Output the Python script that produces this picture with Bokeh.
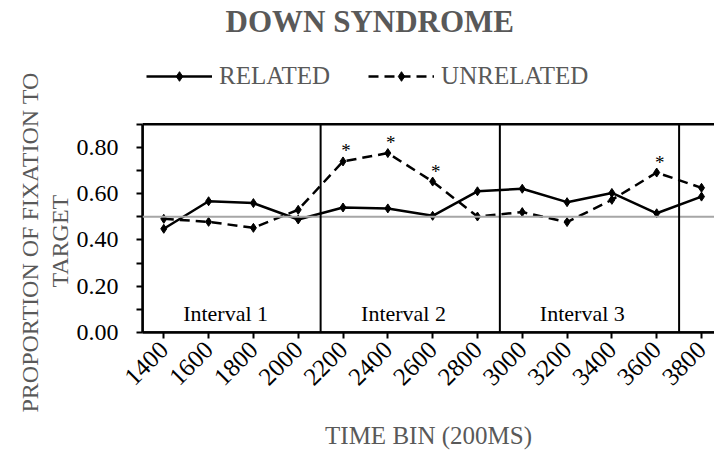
import math
from bokeh.plotting import figure
from bokeh.models import (Span, Legend, LegendItem, FixedTicker, Range1d, Title,
                          NumeralTickFormatter, BoxAnnotation)
from bokeh.core.properties import value
from bokeh.embed import file_html
from bokeh.resources import INLINE

# ---- data ----
categories = ["1400", "1600", "1800", "2000", "2200", "2400", "2600",
              "2800", "3000", "3200", "3400", "3600", "3800"]
related = [0.448, 0.567, 0.559, 0.488, 0.540, 0.536, 0.504,
           0.610, 0.621, 0.563, 0.603, 0.515, 0.587]
unrelated = [0.491, 0.478, 0.452, 0.530, 0.739, 0.775, 0.652,
             0.501, 0.520, 0.477, 0.573, 0.691, 0.625]
significant = ["2200", "2400", "2600", "3600"]
interval_labels = ["Interval 1", "Interval 2", "Interval 3"]
y_ticks = [0.0, 0.2, 0.4, 0.6, 0.8]
y_max = 0.9
chance_level = 0.5

FONT = "Liberation Serif"
GRAY = "#595959"

x = list(range(len(categories)))
x_start, x_end = -0.475, 12.29

# the frame reaches above the plot box so that the legend can sit inside it
p = figure(width=714, height=451,
           x_range=Range1d(x_start, x_end), y_range=Range1d(0, 1.27),
           output_backend="svg", toolbar_location=None,
           min_border_left=142, min_border_top=38, min_border_bottom=119,
           min_border_right=0)
p.outline_line_color = None
p.grid.visible = False
p.background_fill_color = "white"
p.border_fill_color = "white"

# title
p.title.text = "DOWN SYNDROME"
p.title.align = "left"
p.title.offset = 83
p.title.standoff = 0
p.title.text_font = FONT
p.title.text_font_size = "31px"
p.title.text_font_style = "bold"
p.title.text_color = GRAY

# x axis
xa = p.xaxis[0]
xa.ticker = FixedTicker(ticks=x)
xa.major_label_overrides = {i: c for i, c in enumerate(categories)}
xa.major_label_orientation = math.pi / 4
xa.major_label_standoff = 7
xa.major_label_text_font = FONT
xa.major_label_text_font_size = "25px"
xa.major_label_text_color = "black"
xa.major_tick_out = 6
xa.major_tick_in = 0
xa.major_tick_line_width = 2
xa.minor_tick_line_color = None
xa.axis_line_width = 2.5
xa.axis_label = "TIME BIN (200MS)"
xa.axis_label_text_font = FONT
xa.axis_label_text_font_size = "25px"
xa.axis_label_text_font_style = "normal"
xa.axis_label_text_color = GRAY
xa.axis_label_standoff = 26

# y axis (limited to the plot box)
ya = p.yaxis[0]
ya.bounds = (0, y_max)
ya.ticker = FixedTicker(ticks=y_ticks, minor_ticks=[0.1, 0.3, 0.5, 0.7, 0.9])
ya.formatter = NumeralTickFormatter(format="0.00")
ya.major_label_text_font = FONT
ya.major_label_text_font_size = "24px"
ya.major_label_text_color = "black"
ya.major_tick_out = 6
ya.major_tick_in = 0
ya.minor_tick_out = 6
ya.minor_tick_in = 0
ya.major_tick_line_width = 2
ya.minor_tick_line_width = 2
ya.axis_line_width = 2.5
ya.major_label_standoff = 18

# y axis title in two lines
p.add_layout(Title(text="TARGET", align="left", offset=45, text_font=FONT,
                   text_font_size="24px", text_font_style="normal",
                   text_color=GRAY, standoff=2), "left")
p.add_layout(Title(text="PROPORTION OF FIXATION TO", align="left", offset=-80,
                   text_font=FONT, text_font_size="24px", text_font_style="normal",
                   text_color=GRAY, standoff=2), "left")

# plot box border (top edge), chance line, interval boundaries
p.add_layout(BoxAnnotation(left=x_start, right=x_end + 1, bottom=0, top=y_max,
                           fill_alpha=0, line_color="black", line_alpha=1,
                           line_width=2.5))
p.add_layout(Span(location=chance_level, dimension="width",
                  line_color="#A6A6A6", line_width=2))
for b in [3.5, 7.5, 11.5]:
    p.add_layout(BoxAnnotation(left=b, right=b, bottom=0, top=y_max,
                               fill_alpha=0, line_color="black", line_alpha=1,
                               line_width=2))

# series
r1 = p.line(x, related, line_color="black", line_width=2.5)
s1 = p.scatter(x, related, marker="diamond", size=9, color="black")
r2 = p.line(x, unrelated, line_color="black", line_width=2.5, line_dash="10 6")
s2 = p.scatter(x, unrelated, marker="diamond", size=9, color="black")

# significance asterisks
sx = [categories.index(c) for c in significant]
sy = [unrelated[i] for i in sx]
p.text(sx, sy, text=["*"] * len(sx), x_offset=3, y_offset=0,
       text_align="center", text_baseline="bottom",
       text_font=value(FONT), text_font_size="19px", text_color="black")

# interval labels
p.text([1.38, 5.35, 9.34], [0.082] * 3, text=interval_labels,
       text_align="center", text_baseline="middle",
       text_font=value(FONT), text_font_size="22px", text_color="black")

legend = Legend(items=[LegendItem(label="RELATED", renderers=[r1, s1]),
                       LegendItem(label="UNRELATED", renderers=[r2, s2])],
                orientation="horizontal", location=(4, 242),
                glyph_width=66, glyph_height=24, label_height=24,
                label_standoff=7, spacing=38,
                padding=5, margin=0, border_line_color=None,
                background_fill_alpha=0,
                label_text_font=FONT, label_text_font_size="25px",
                label_text_color=GRAY)
p.add_layout(legend, "center")

open("out.html", "w").write(file_html(p, INLINE))
